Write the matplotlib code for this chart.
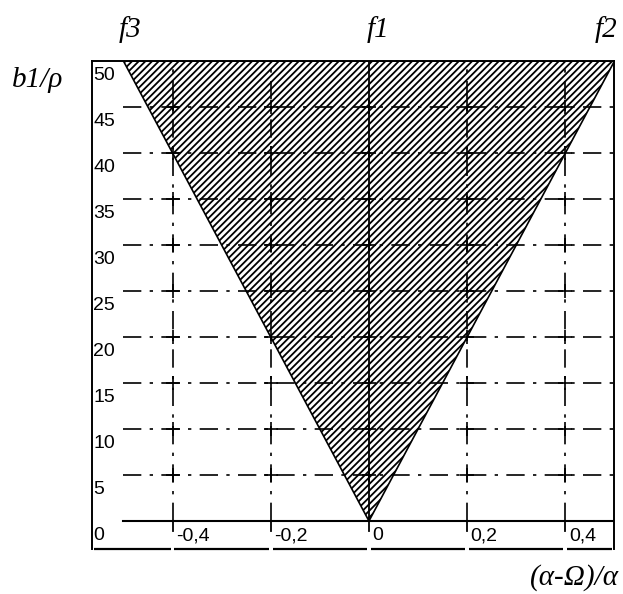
import numpy as np
import matplotlib.pyplot as plt
from matplotlib.patches import Polygon

# --- data ---
x_ticks = [-0.4, -0.2, 0.0, 0.2, 0.4]
x_labels = ['-0,4', '-0,2', '0', '0,2', '0,4']
y_ticks = [0, 5, 10, 15, 20, 25, 30, 35, 40, 45, 50]
y_labels = ['0', '5', '10', '15', '20', '25', '30', '35', '40', '45', '50']
grid_y = [5, 10, 15, 20, 25, 30, 35, 40, 45]
grid_x = [-0.4, -0.2, 0.2, 0.4]
# hatched region (f3 - f1 - f2)
region_x = [0.0, 0.5, -0.5]
region_y = [0.0, 50.0, 50.0]
curve_names = ['f3', 'f1', 'f2']
curve_px = [130, 378, 606]   # label centres in pixels

W, H = 623, 594
plt.rcParams['hatch.linewidth'] = 1.3
fig = plt.figure(figsize=(W / 100, H / 100), dpi=100)
ax = fig.add_axes([92 / W, (H - 549) / H, (614 - 92) / W, (549 - 61) / H])
ax.set_xlim(-0.564, 0.499)
ax.set_ylim(-3.04, 50)
ax.set_xticks([])
ax.set_yticks([])
for s in ['left', 'right', 'top']:
    ax.spines[s].set_linewidth(1.4)
ax.spines['bottom'].set_visible(False)

# bottom frame drawn in pieces, gaps under the ticks
edges = [-0.564] + x_ticks + [0.499]
for a, b in zip(edges[:-1], edges[1:]):
    ax.plot([a + 0.004, b - 0.004], [-3.04, -3.04], color='black', lw=1.6,
            solid_capstyle='butt', clip_on=False)

# hatched triangle
tri = Polygon(np.column_stack([region_x, region_y]), closed=True,
              facecolor='white', edgecolor='black', hatch='/////', lw=1.2, zorder=2)
ax.add_patch(tri)

# dash-dot grid
ls = (0, (11, 5, 2, 5))
for y in grid_y:
    ax.plot([-0.5, 0.499], [y, y], color='black', lw=1.2, linestyle=ls, zorder=3)
for x in grid_x:
    ax.plot([x, x], [0, 50], color='black', lw=1.2, linestyle=ls, zorder=3)
gx, gy = np.meshgrid(grid_x + [0.0], grid_y)
ax.plot(gx.ravel(), gy.ravel(), linestyle='none', marker='+', ms=10, mew=1.2,
        color='black', zorder=4)

# axes lines
ax.plot([-0.5, 0.499], [0, 0], color='black', lw=1.5, zorder=4)
ax.plot([0, 0], [0, 50], color='black', lw=1.3, zorder=4)
for x in x_ticks:
    ax.plot([x, x], [0, -1.1], color='black', lw=1.3, zorder=4)

# tick labels
for x, lab in zip(x_ticks, x_labels):
    ax.text(x + 0.007, -1.6, lab, ha='left', va='center', fontsize=14,
            family='Liberation Sans')
for y, lab in zip(y_ticks, y_labels):
    ax.text(-0.561, y - 1.6, lab, ha='left', va='center', fontsize=14,
            family='Liberation Sans')

# curve names above the frame
for px, name in zip(curve_px, curve_names):
    fig.text(px / W, 1 - 30 / H, name, ha='center', va='center', fontsize=21,
             style='italic', family='Liberation Serif')

fig.text(38 / W, 1 - 80 / H, 'b1/ρ', ha='center', va='center', fontsize=21,
         style='italic', family='Liberation Serif')
fig.text(619 / W, 1 - 578 / H, '(α-Ω)/α', ha='right', va='center', fontsize=21,
         style='italic', family='Liberation Serif')

fig.savefig('out.png', dpi=100)
